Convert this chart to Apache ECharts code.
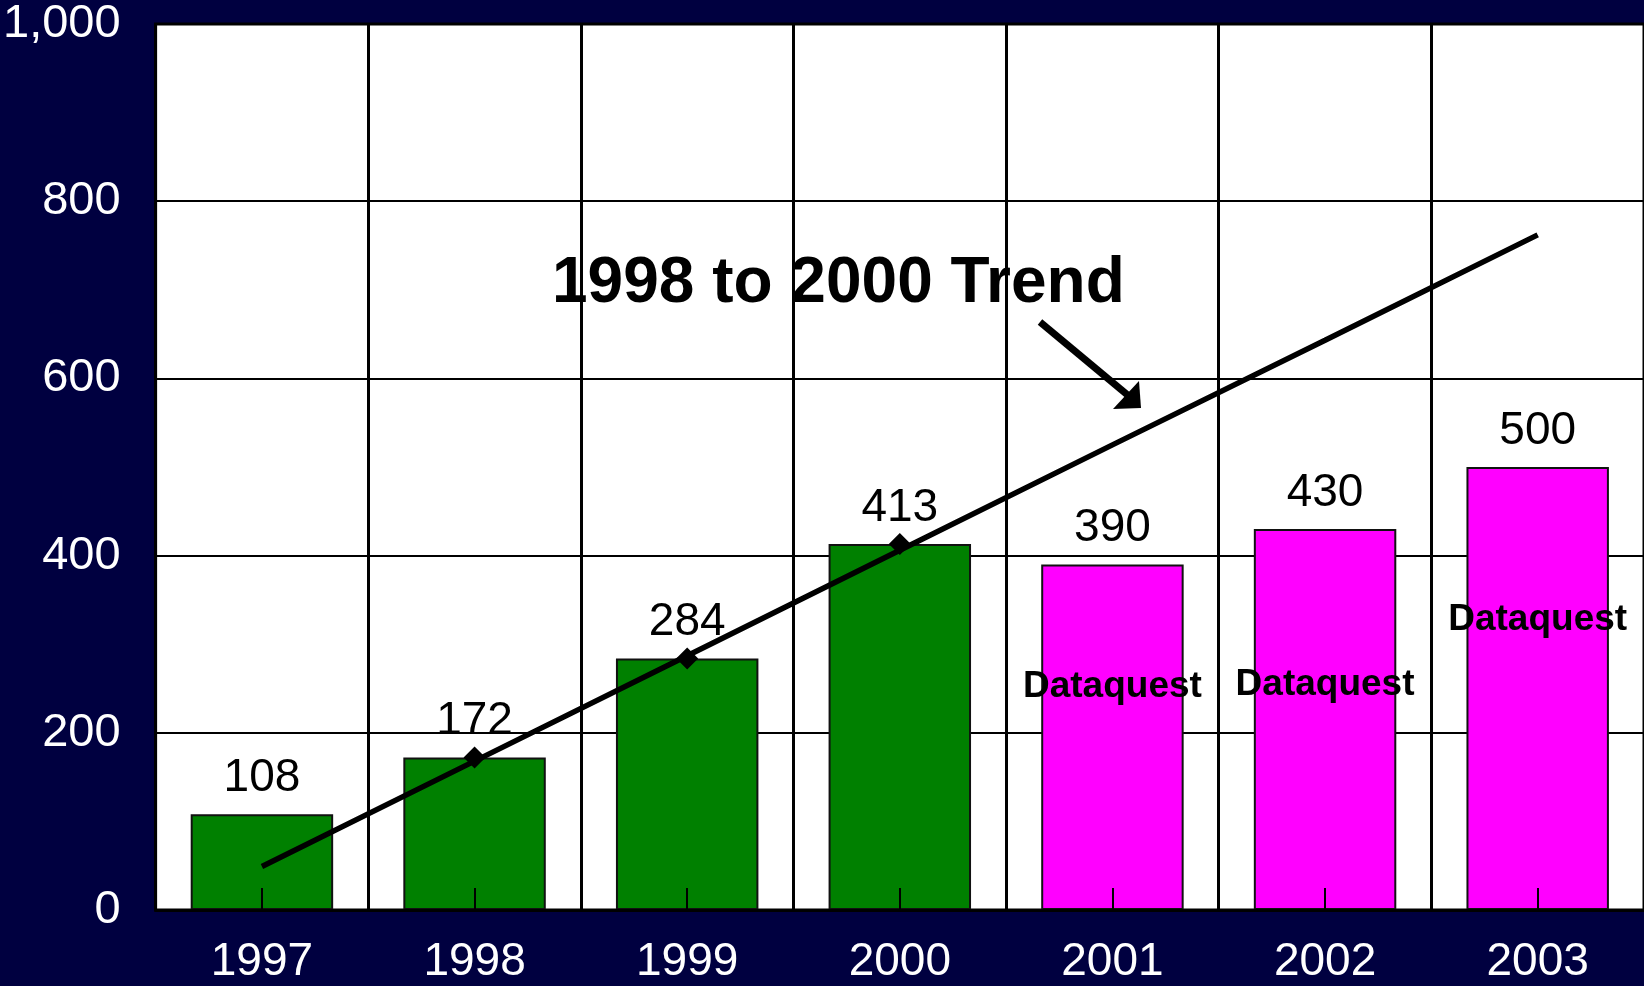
<!DOCTYPE html>
<html>
<head>
<meta charset="utf-8">
<title>1998 to 2000 Trend</title>
<script src="https://cdn.jsdelivr.net/npm/echarts@6/dist/echarts.min.js"></script>
<style>
  html, body { margin: 0; padding: 0; background: #000040; }
  #chart { width: 1644px; height: 986px; }
</style>
</head>
<body>
<div id="chart"></div>
<script>
// years on the x axis
const years = ["1997", "1998", "1999", "2000", "2001", "2002", "2003"];
// actual shipments (green) and Dataquest forecast (magenta)
const actual = [108, 172, 284, 413];
const forecast = [390, 430, 500];
// straight trend line, 1997..2003
const trend = [49, 168, 287, 406, 525, 643, 762];
// diamonds on the trend, 1998..2000
const trendPoints = ["-", 172, 284, 413, "-", "-", "-"];
const noteText = "Dataquest";
const yTicks = [0, 200, 400, 600, 800, 1000];

const FONT = "'Liberation Sans', Arial, Helvetica, sans-serif";
const GREEN = "#008000";
const MAGENTA = "#ff00ff";

const allValues = actual.concat(forecast);
const notes = allValues.map((v, i) => (i < actual.length ? "-" : v));
// how far below each forecast bar's top the "Dataquest" label sits
const noteDistance = [0, 0, 0, 0, 104, 137, 134];

const chart = echarts.init(document.getElementById("chart"));
chart.setOption({
  animation: false,
  backgroundColor: "#000040",
  grid: {
    left: 153,
    right: -2,
    top: 24,
    bottom: 76,
    show: true,
    backgroundColor: "#ffffff",
    borderColor: "#000000",
    borderWidth: 3,
  },
  xAxis: {
    type: "category",
    data: years,
    z: 3,
    axisLine: { show: true, lineStyle: { color: "#000", width: 3 } },
    axisTick: {
      show: true,
      alignWithLabel: true,
      inside: true,
      length: 22,
      lineStyle: { color: "#000", width: 2 },
    },
    axisLabel: {
      color: "#ffffff",
      fontFamily: FONT,
      fontSize: 46,
      margin: 29,
    },
    splitLine: { show: true, lineStyle: { color: "#000", width: 3 } },
  },
  yAxis: {
    type: "value",
    min: yTicks[0],
    max: yTicks[yTicks.length - 1],
    interval: yTicks[1] - yTicks[0],
    axisLine: { show: false },
    axisTick: { show: false },
    axisLabel: {
      color: "#ffffff",
      fontFamily: FONT,
      fontSize: 47,
      margin: 35,
      formatter: (v) => v.toLocaleString("en-US"),
    },
    splitLine: { show: true, lineStyle: { color: "#000", width: 2 } },
  },
  series: [
    {
      name: "Shipments",
      type: "bar",
      barCategoryGap: "33%",
      barGap: "-100%",
      data: allValues.map((v, i) => ({
        value: v,
        itemStyle: { color: i < actual.length ? GREEN : MAGENTA },
      })),
      itemStyle: { borderColor: "#111", borderWidth: 2 },
      label: {
        show: true,
        position: "top",
        distance: 13,
        color: "#000",
        fontFamily: FONT,
        fontSize: 46,
      },
    },
    {
      name: "Notes",
      type: "bar",
      barCategoryGap: "33%",
      barGap: "-100%",
      silent: true,
      data: notes.map((v, i) => ({
        value: v,
        label: { distance: noteDistance[i] },
      })),
      itemStyle: { color: "rgba(0,0,0,0)" },
      label: {
        show: true,
        position: "insideTop",
        formatter: () => noteText,
        color: "#000",
        fontFamily: FONT,
        fontWeight: "bold",
        fontSize: 37,
      },
      z: 3,
    },
    {
      name: "Trend",
      type: "line",
      data: trend,
      symbol: "none",
      lineStyle: { color: "#000", width: 5.5 },
      z: 4,
    },
    {
      name: "Trend points",
      type: "scatter",
      data: trendPoints,
      symbol: "diamond",
      symbolSize: 22,
      itemStyle: { color: "#000", opacity: 1 },
      z: 5,
    },
  ],
  graphic: [
    {
      type: "text",
      left: 552,
      top: 281 - 29,
      z: 10,
      style: {
        text: "1998 to 2000 Trend",
        font: "bold 64px " + FONT,
        fill: "#000",
      },
    },
    {
      type: "line",
      z: 10,
      shape: { x1: 1040, y1: 322, x2: 1130, y2: 397 },
      style: { stroke: "#000", lineWidth: 7 },
    },
    {
      type: "polygon",
      z: 10,
      shape: { points: [[1141, 408], [1113, 409], [1139, 381]] },
      style: { fill: "#000" },
    },
  ],
});
</script>
</body>
</html>
